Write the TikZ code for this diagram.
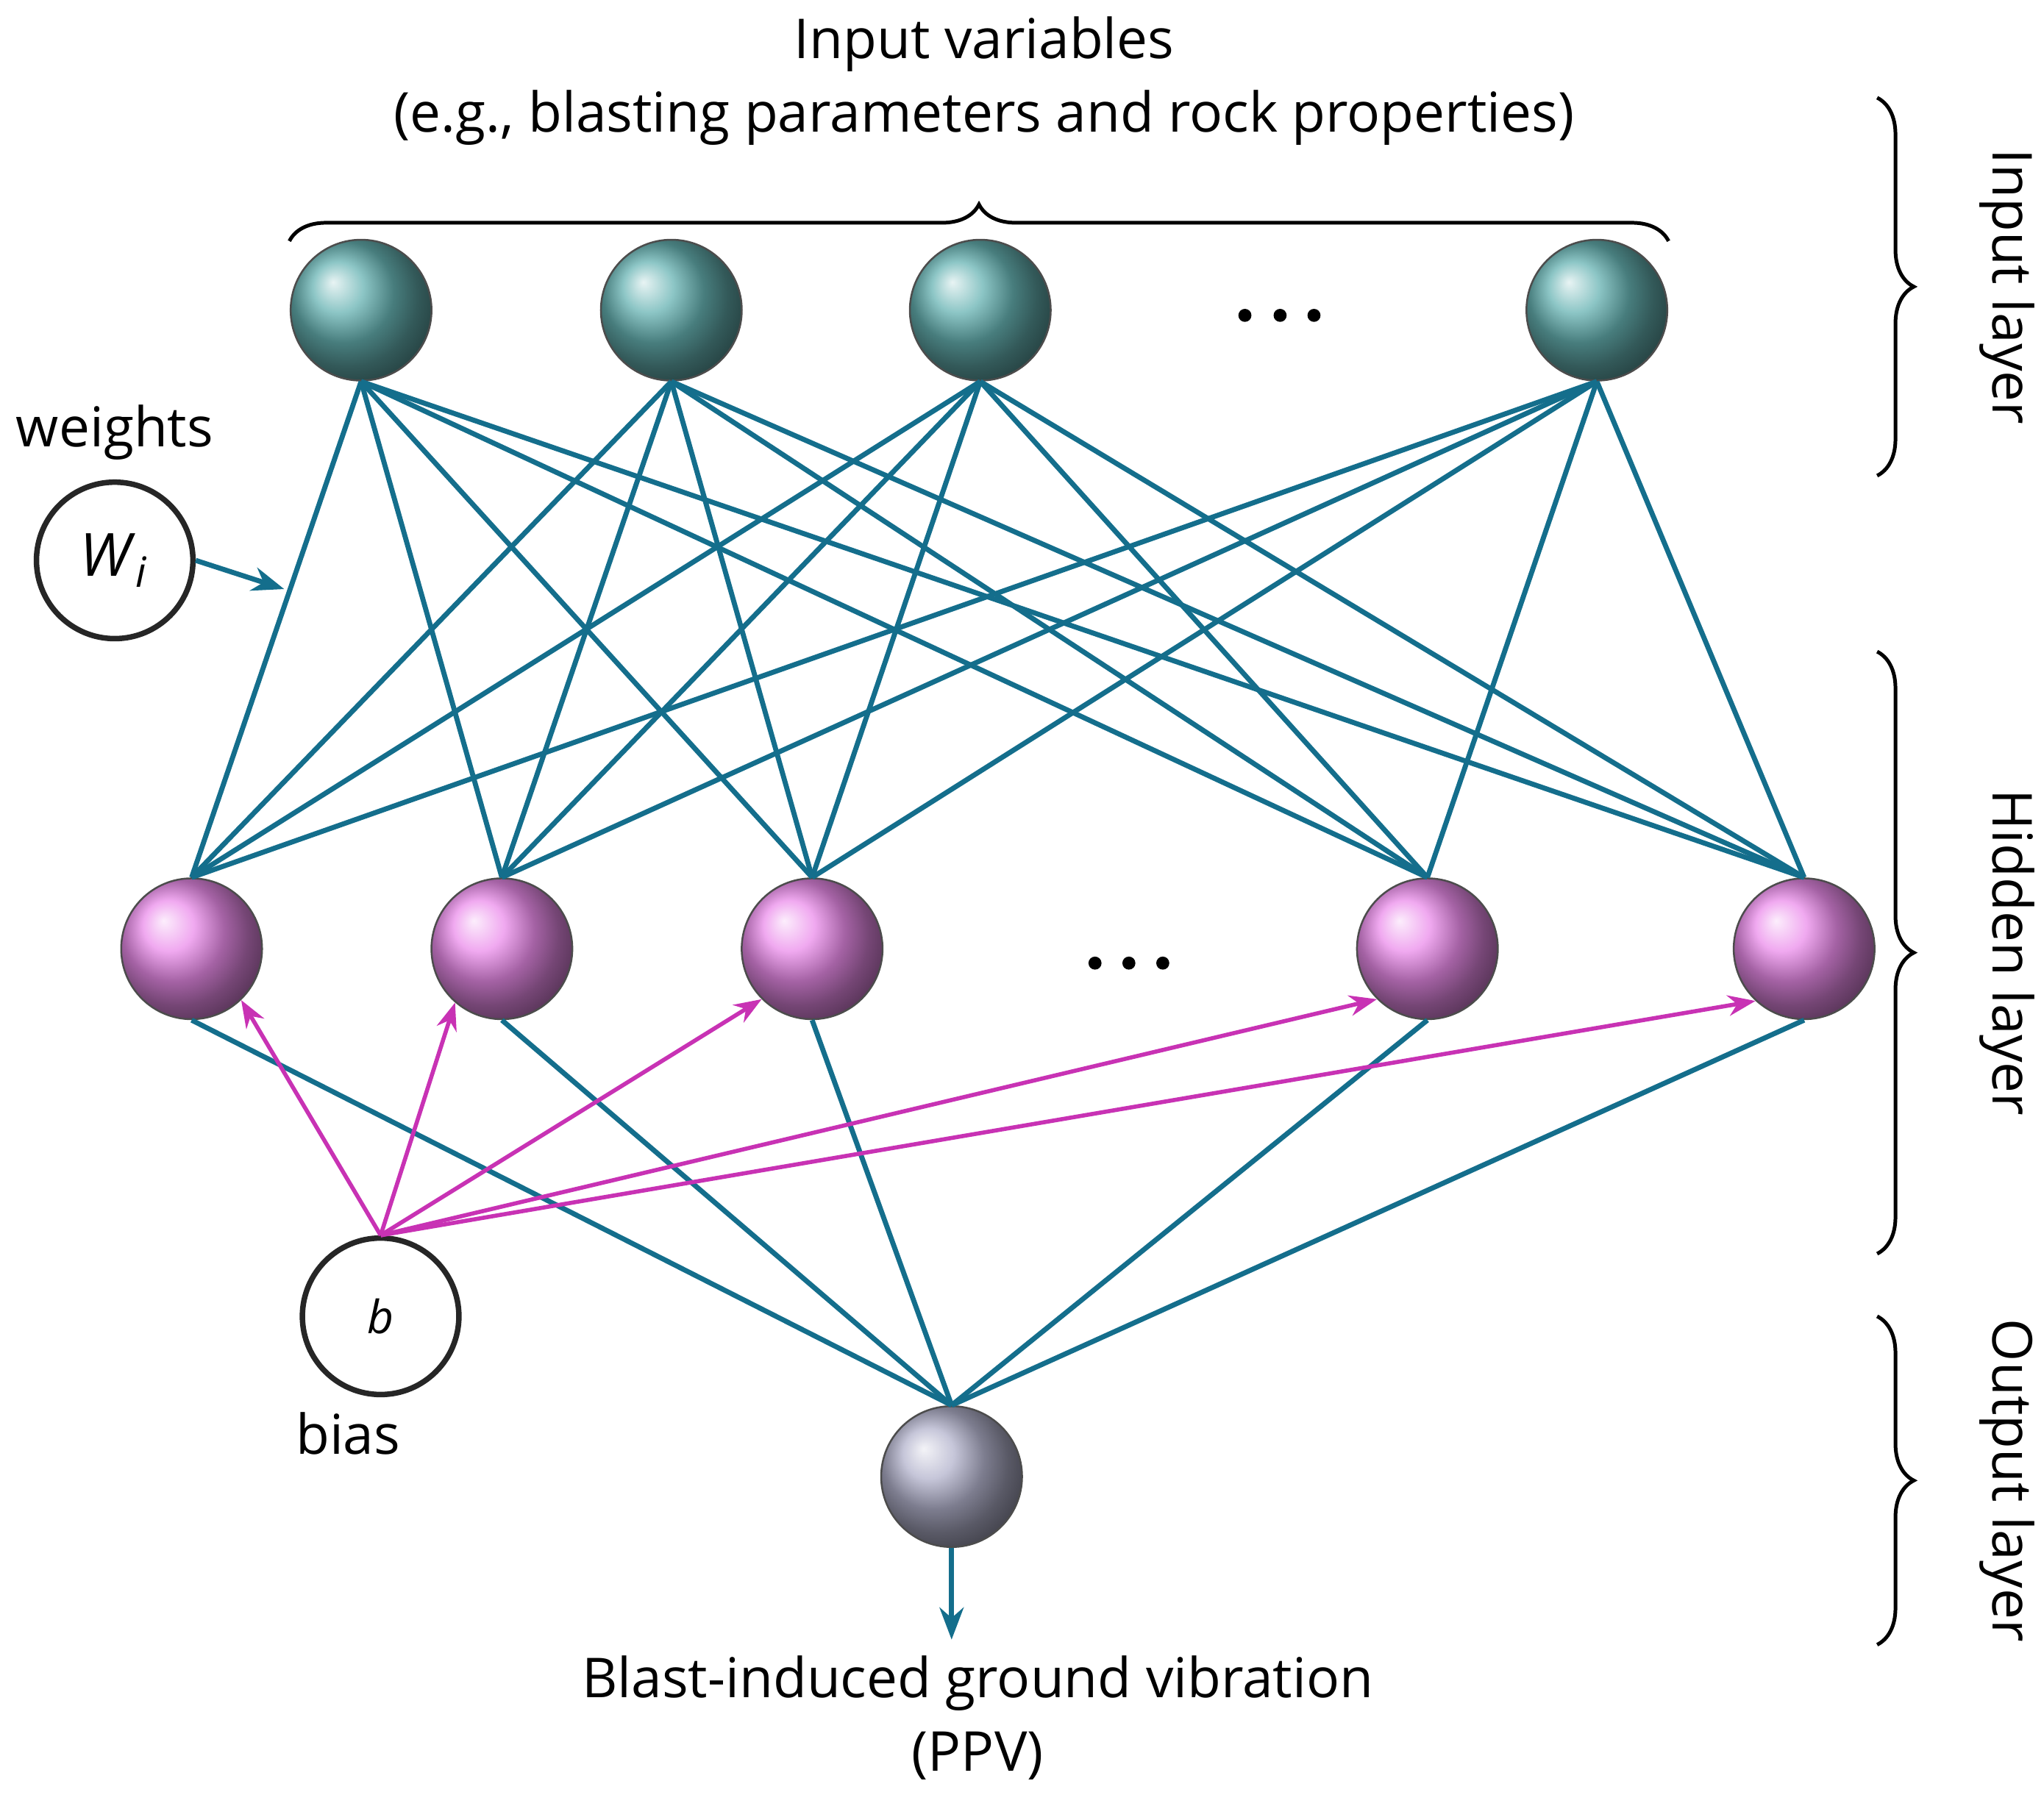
\documentclass[tikz,border=0pt]{standalone}
\usepackage{fontspec}
\setmainfont{Open Sans}
\usetikzlibrary{calc, arrows.meta, decorations.pathreplacing}
\definecolor{edgeblue}{RGB}{20,110,140}
\definecolor{biaspink}{RGB}{200,50,180}
\tikzstyle{inneuron} = [circle, draw=black!70, shading=ball, ball color=teal!60!white]
\tikzstyle{hidneuron} = [circle, draw=black!70, shading=ball, ball color=violet!35!magenta!45!white]
\tikzstyle{outneuron} = [circle, draw=black!70, shading=ball, ball color=blue!20!gray!50!white]
\tikzstyle{param} = [circle, draw=black!85, line width=1.2pt, minimum size=1.2cm]
\tikzstyle{lbl} = [font=\fontsize{12}{16}\selectfont]
\tikzstyle{layerbrace} = [decorate, decoration={brace, amplitude=8pt}, line width=0.8pt]

\begin{document}
\begin{tikzpicture}[x=0.01cm, y=-0.01cm]
        \useasboundingbox (0,0) rectangle (1568,1377);
        % input layer
        \foreach \x [count=\i] in {277, 515, 752, 1225}
            \node[inneuron, minimum size=1.08cm] at (\x, 238) (in\i) {};
        \foreach \x in {955, 982, 1008}
            \fill (\x, 242) circle (5);
        % hidden layer
        \foreach \x [count=\i] in {147, 385, 623, 1095, 1384}
            \node[hidneuron, minimum size=1.08cm] at (\x, 728) (hid\i) {};
        \foreach \x in {840, 866, 892}
            \fill (\x, 739) circle (5);
        % output layer
        \node[outneuron, minimum size=1.08cm] at (730, 1133) (out) {};

        \foreach \i in {1,...,4}
            \foreach \j in {1,...,5}
                \draw[edgeblue, line width=1.1pt] (in\i.south) -- (hid\j.north);
        \foreach \j in {1,...,5}
            \draw[edgeblue, line width=1.1pt] (hid\j.south) -- (out.north);

        % weights and bias
        \node[param] at (88, 430) (W) {\fontsize{13}{14}\selectfont\textit{W}\textsubscript{\textit{i}}};
        \node[lbl] at (88, 332) (weights) {weights};
        \coordinate (wtip) at (218, 452);
        \draw[edgeblue, line width=1.1pt, -{Stealth[length=7pt]}] (W.east) -- (wtip);
        \node[param] at (292, 1010) (b) {\textit{b}};
        \node[lbl] at (267, 1100) (bias) {bias};
        \foreach \j/\a in {1/-46, 2/-131, 3/-135, 4/-135, 5/-133}
            \draw[biaspink, line width=0.9pt, -{Stealth[length=6pt]}] (b.north) -- (hid\j.\a);

        % output arrow and texts
        \node[lbl, align=center] at (750, 1318) (ppv) {Blast-induced ground vibration\\(PPV)};
        \draw[edgeblue, line width=1.1pt, -{Stealth[length=7pt]}] (out.south) -- (ppv.north -| out.south);
        \node[lbl, align=center] at (755, 62) (inputs) {Input variables\\(e.g., blasting parameters and rock properties)};

        % braces
        \coordinate (bl) at (222, 185);
        \coordinate (br) at (1280, 185);
        \draw[layerbrace] (bl) -- (br);
        \coordinate (i1) at (1440, 75);
        \coordinate (i2) at (1440, 365);
        \coordinate (h1) at (1440, 500);
        \coordinate (h2) at (1440, 962);
        \coordinate (o1) at (1440, 1010);
        \coordinate (o2) at (1440, 1262);
        \draw[layerbrace] (i1) -- (i2);
        \draw[layerbrace] (h1) -- (h2);
        \draw[layerbrace] (o1) -- (o2);
        \node[lbl, rotate=-90] at (1540, 220) {Input layer};
        \node[lbl, rotate=-90] at (1540, 731) {Hidden layer};
        \node[lbl, rotate=-90] at (1540, 1136) {Output layer};
    \end{tikzpicture}
\end{document}
